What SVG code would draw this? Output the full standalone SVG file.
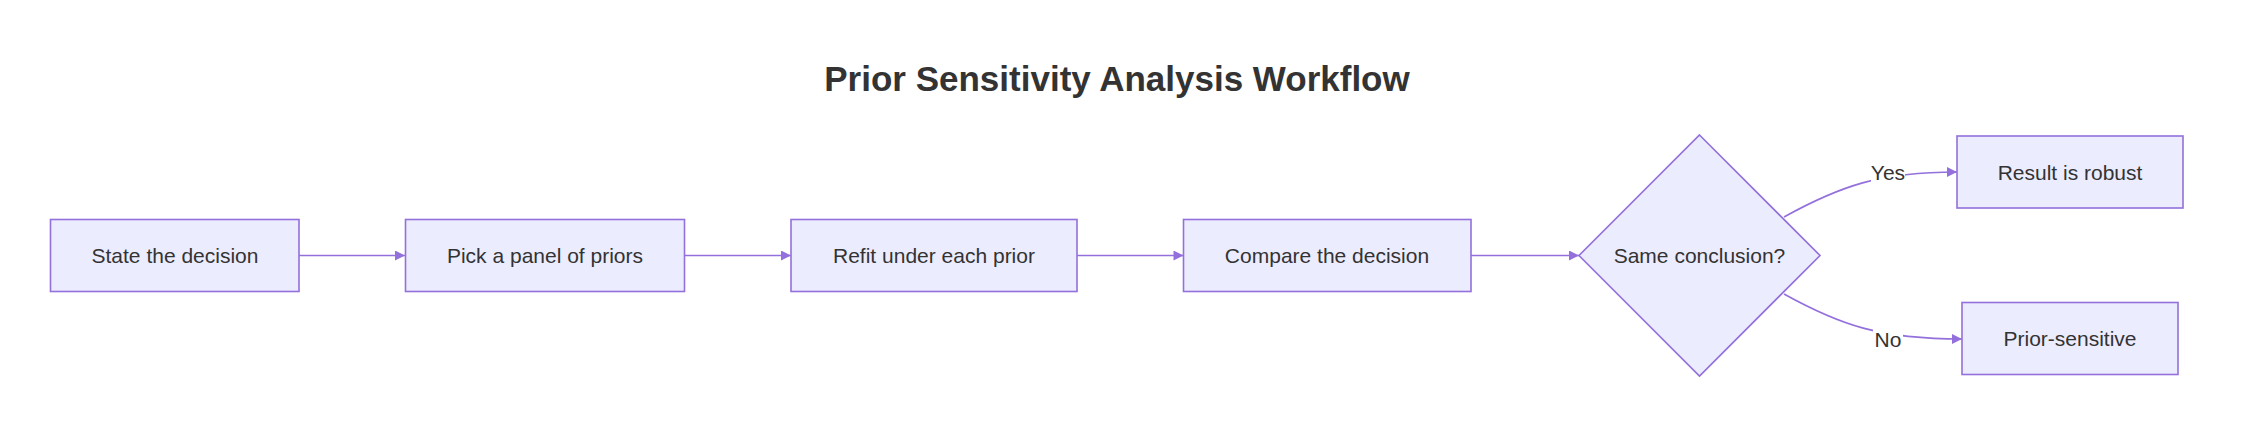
<svg xmlns="http://www.w3.org/2000/svg" width="2248" height="430" viewBox="0 0 2248 430">
  <style>
    .node rect, .node polygon { fill: #ECECFF; stroke: #9370DB; stroke-width: 1.6; }
    .label { font-family: "Liberation Sans", Arial, sans-serif; font-size: 21px; fill: #333333; text-anchor: middle; }
    .title { font-family: "Liberation Sans", Arial, sans-serif; font-size: 35px; font-weight: bold; fill: #333333; text-anchor: middle; }
    .edge { fill: none; stroke: #9370DB; stroke-width: 1.6; }
    .elbg { fill: #FFFFFF; }
  </style>
  <defs>
    <marker id="arrow" viewBox="0 0 10 10" refX="10" refY="5" markerUnits="userSpaceOnUse" markerWidth="11" markerHeight="10" orient="auto">
      <path d="M0,0 L10,5 L0,10 z" fill="#9370DB"/>
    </marker>
  </defs>
  <rect x="0" y="0" width="2248" height="430" fill="#FFFFFF"/>
  <text class="title" x="1117" y="91">Prior Sensitivity Analysis Workflow</text>

  <g id="connectors">
    <path class="edge" d="M299,255.5 L405,255.5" marker-end="url(#arrow)"/>
    <path class="edge" d="M685,255.5 L791,255.5" marker-end="url(#arrow)"/>
    <path class="edge" d="M1077,255.5 L1183.5,255.5" marker-end="url(#arrow)"/>
    <path class="edge" d="M1471,255.5 L1579,255.5" marker-end="url(#arrow)"/>
    <path class="edge" d="M1784,217 C1840,186 1880,172 1957,172" marker-end="url(#arrow)"/>
    <path class="edge" d="M1784,294 C1840,325 1880,339 1962,339" marker-end="url(#arrow)"/>
    <g id="label-yes">
      <rect class="elbg" x="1871" y="161" width="34" height="24"/>
      <text class="label" x="1888" y="179.5">Yes</text>
    </g>
    <g id="label-no">
      <rect class="elbg" x="1873" y="327" width="30" height="24"/>
      <text class="label" x="1888" y="346.5">No</text>
    </g>
  </g>

  <g id="state" class="node">
    <rect x="50.5" y="219.5" width="248.5" height="72"/>
    <text class="label" x="175" y="263">State the decision</text>
  </g>
  <g id="pick" class="node">
    <rect x="405.5" y="219.5" width="279" height="72"/>
    <text class="label" x="545" y="263">Pick a panel of priors</text>
  </g>
  <g id="refit" class="node">
    <rect x="791" y="219.5" width="286" height="72"/>
    <text class="label" x="934" y="263">Refit under each prior</text>
  </g>
  <g id="compare" class="node">
    <rect x="1183.5" y="219.5" width="287.5" height="72"/>
    <text class="label" x="1327" y="263">Compare the decision</text>
  </g>
  <g id="same" class="node">
    <polygon points="1699.5,135 1820,255.5 1699.5,376 1579,255.5"/>
    <text class="label" x="1699.5" y="263">Same conclusion?</text>
  </g>
  <g id="robust" class="node">
    <rect x="1957" y="136" width="226" height="72"/>
    <text class="label" x="2070" y="179.5">Result is robust</text>
  </g>
  <g id="sensitive" class="node">
    <rect x="1962" y="302.5" width="216" height="72"/>
    <text class="label" x="2070" y="346">Prior-sensitive</text>
  </g>
</svg>
